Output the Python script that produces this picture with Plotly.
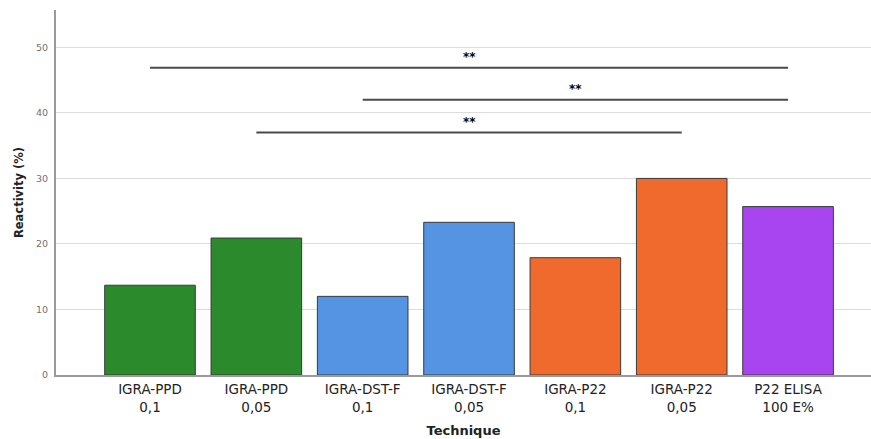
import plotly.graph_objects as go

# Reactivity per technique
line1 = ["IGRA-PPD", "IGRA-PPD", "IGRA-DST-F", "IGRA-DST-F", "IGRA-P22", "IGRA-P22", "P22 ELISA"]
line2 = ["0,1", "0,05", "0,1", "0,05", "0,1", "0,05", "100 E%"]
reactivity = [13.7, 20.9, 12.0, 23.3, 17.9, 30.0, 25.7]
bar_colors = ["#2b8a2b", "#2b8a2b", "#5494e2", "#5494e2", "#f0692d", "#f0692d", "#a845f0"]

# Significance brackets: (first bar index, last bar index, height, label)
sig_start = [0, 2, 1]
sig_end = [6, 6, 5]
sig_height = [46.9, 42.0, 37.0]
sig_label = ["**", "**", "**"]

positions = list(range(len(reactivity)))
ticktext = [f"{a}<br>{b}" for a, b in zip(line1, line2)]

fig = go.Figure()
fig.add_trace(go.Bar(
    x=positions,
    y=reactivity,
    marker=dict(color=bar_colors, line=dict(color="#3a3a3a", width=1)),
    width=0.852,
    hoverinfo="y",
))

for s, e, h, lab in zip(sig_start, sig_end, sig_height, sig_label):
    fig.add_shape(type="line", xref="x", yref="y", x0=s, x1=e, y0=h, y1=h,
                  line=dict(color="#4a4a4a", width=2))
    fig.add_annotation(x=(s + e) / 2, y=h, xref="x", yref="y", text="<b>" + lab + "</b>",
                       showarrow=False, yanchor="bottom", yshift=2,
                       font=dict(family="DejaVu Sans", size=12, color="#000"))

fig.update_layout(
    width=871, height=439,
    margin=dict(l=56, r=0, t=10, b=64),
    paper_bgcolor="white", plot_bgcolor="white",
    showlegend=False,
    font=dict(family="DejaVu Sans", color="#222"),
    xaxis=dict(
        range=[-0.884, 6.78],
        tickmode="array", tickvals=positions, ticktext=ticktext,
        tickfont=dict(family="DejaVu Sans", size=13.5, color="#222"),
        showgrid=False, zeroline=False,
        showline=True, linecolor="#9a9a9a", linewidth=1.5,
        ticks="", ticklabelstandoff=1,
        title=dict(text="<b>Technique</b>", font=dict(family="DejaVu Sans", size=13, color="#222"),
                   standoff=12),
        fixedrange=True,
    ),
    yaxis=dict(
        range=[0, 55.7],
        tickvals=[0, 10, 20, 30, 40, 50],
        tickfont=dict(family="DejaVu Sans", size=9.5, color="#707070"),
        showgrid=True, gridcolor="#dddddd", gridwidth=1.3,
        zeroline=False,
        showline=True, linecolor="#9a9a9a", linewidth=2,
        ticks="", ticklabelstandoff=4,
        title=dict(text="<b>Reactivity (%)</b>", font=dict(family="DejaVu Sans", size=11.5, color="#222"),
                   standoff=10),
        fixedrange=True,
    ),
)

fig.write_html("out.html")
